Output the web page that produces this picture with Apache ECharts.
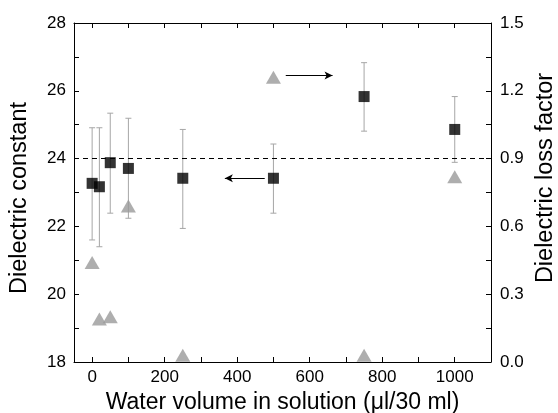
<!DOCTYPE html>
<html>
<head>
<meta charset="utf-8">
<script src="https://cdn.jsdelivr.net/npm/echarts@6/dist/echarts.min.js"></script>
<style>html,body{margin:0;padding:0;background:#fff}#c{width:558px;height:413px}</style>
</head>
<body>
<div id="c"></div>
<script>
var waterVolume = [0, 20, 50, 100, 250, 500, 750, 1000];
var dielConst = [23.27, 23.17, 23.88, 23.71, 23.42, 23.42, 25.83, 24.86];
var dielConstHigh = [24.91, 24.91, 25.34, 25.19, 24.86, 24.43, 26.83, 25.83];
var dielConstLow = [21.60, 21.40, 22.39, 22.24, 21.94, 22.39, 24.81, 23.89];
var lossFactor = [0.44, 0.19, 0.20, 0.69, 0.03, 1.26, 0.03, 0.82];
var xLabelValues = [0, 200, 400, 600, 800, 1000];
var xTickValues = [0, 100, 200, 300, 400, 500, 600, 700, 800, 900, 1000];
var refLevel = 24;
var arrowLeft = [[476, 23.42], [366, 23.42]];
var arrowRight = [[534, 26.45], [663, 26.45]];
var xTitle = 'Water volume in solution (\u03bcl/30 ml)';
var yLeftTitle = 'Dielectric constant';
var yRightTitle = 'Dielectric loss factor';

var FONT = 'Liberation Sans, Arial, sans-serif';
var chart = echarts.init(document.getElementById('c'));

var sqData = waterVolume.map(function (x, i) { return [x, dielConst[i]]; });
var triData = waterVolume.map(function (x, i) { return [x, lossFactor[i]]; });
var errData = waterVolume.map(function (x, i) { return [x, dielConstLow[i], dielConstHigh[i]]; });

var tickCommon = { show: true, inside: true, length: 5, lineStyle: { color: '#000', width: 1 } };
var labelFont = 17;

chart.setOption({
  animation: false,
  grid: { left: 74, top: 23, right: 67, bottom: 51, containLabel: false, outerBoundsMode: 'none' },
  graphic: [{
    type: 'text', x: 20, y: 198, rotation: Math.PI / 2, silent: true,
    style: { text: yLeftTitle, font: '23.5px ' + FONT, fill: '#000', textAlign: 'center', textVerticalAlign: 'middle' }
  }, {
    type: 'text', x: 546, y: 178, rotation: Math.PI / 2, silent: true,
    style: { text: yRightTitle, font: '23.5px ' + FONT, fill: '#000', textAlign: 'center', textVerticalAlign: 'middle' }
  }],
  xAxis: [{
    type: 'value', min: -50, max: 1100, position: 'bottom',
    name: xTitle, nameLocation: 'middle', nameGap: 25,
    nameTextStyle: { fontFamily: FONT, fontSize: 23, color: '#000', verticalAlign: 'top' },
    axisLine: { show: true, onZero: false, lineStyle: { color: '#000', width: 1 } },
    axisTick: Object.assign({ customValues: xTickValues }, tickCommon),
    axisLabel: { customValues: xLabelValues, fontFamily: FONT, fontSize: labelFont, color: '#000', margin: 7,
      formatter: function (v) { return String(v); } },
    splitLine: { show: false }
  }, {
    type: 'value', min: -50, max: 1100, position: 'top',
    axisLine: { show: true, onZero: false, lineStyle: { color: '#000', width: 1 } },
    axisTick: Object.assign({ customValues: xTickValues }, tickCommon),
    axisLabel: { show: false },
    splitLine: { show: false }
  }],
  yAxis: [{
    type: 'value', min: 18, max: 28, interval: 1, position: 'left',
    axisLine: { show: true, onZero: false, lineStyle: { color: '#000', width: 1 } },
    axisTick: tickCommon,
    axisLabel: { fontFamily: FONT, fontSize: labelFont, color: '#000', margin: 8,
      formatter: function (v) { return (Math.round(v) % 2 === 0) ? String(Math.round(v)) : ''; } },
    splitLine: { show: false }
  }, {
    type: 'value', min: 0, max: 1.5, interval: 0.15, position: 'right',
    axisLine: { show: true, onZero: false, lineStyle: { color: '#000', width: 1 } },
    axisTick: tickCommon,
    axisLabel: { fontFamily: FONT, fontSize: labelFont, color: '#000', margin: 9,
      formatter: function (v) { var k = Math.round(v / 0.15); return (k % 2 === 0) ? v.toFixed(1) : ''; } },
    splitLine: { show: false }
  }],
  series: [{
    type: 'custom', xAxisIndex: 0, yAxisIndex: 0, data: errData, z: 1,
    encode: { x: 0, y: [1, 2] },
    renderItem: function (params, api) {
      var x = api.value(0);
      var lo = api.coord([x, api.value(1)]);
      var hi = api.coord([x, api.value(2)]);
      var c = 3;
      var st = { stroke: '#a6a6a6', lineWidth: 1 };
      return { type: 'group', children: [
        { type: 'line', shape: { x1: lo[0], y1: lo[1], x2: hi[0], y2: hi[1] }, style: st },
        { type: 'line', shape: { x1: lo[0] - c, y1: lo[1], x2: lo[0] + c, y2: lo[1] }, style: st },
        { type: 'line', shape: { x1: hi[0] - c, y1: hi[1], x2: hi[0] + c, y2: hi[1] }, style: st }
      ] };
    }
  }, {
    type: 'line', xAxisIndex: 0, yAxisIndex: 0, data: [], z: 2,
    markLine: {
      silent: true, symbol: ['none', 'none'], label: { show: false },
      lineStyle: { color: '#000', type: [5, 4], width: 1 },
      data: [{ yAxis: refLevel }]
    }
  }, {
    type: 'line', xAxisIndex: 0, yAxisIndex: 0, data: [], z: 3,
    markLine: {
      silent: true, symbol: ['none', 'arrow'], symbolSize: [6, 8], label: { show: false },
      lineStyle: { color: '#000', type: 'solid', width: 1 },
      data: [
        [{ coord: arrowLeft[0] }, { coord: arrowLeft[1] }],
        [{ coord: arrowRight[0] }, { coord: arrowRight[1] }]
      ]
    }
  }, {
    type: 'scatter', xAxisIndex: 0, yAxisIndex: 1, data: triData, z: 4,
    symbol: 'triangle', symbolSize: [15, 13],
    itemStyle: { color: '#9a9a9a' }
  }, {
    type: 'scatter', xAxisIndex: 0, yAxisIndex: 0, data: sqData, z: 5,
    symbol: 'rect', symbolSize: 11,
    itemStyle: { color: '#000' }
  }]
});
</script>
</body>
</html>
